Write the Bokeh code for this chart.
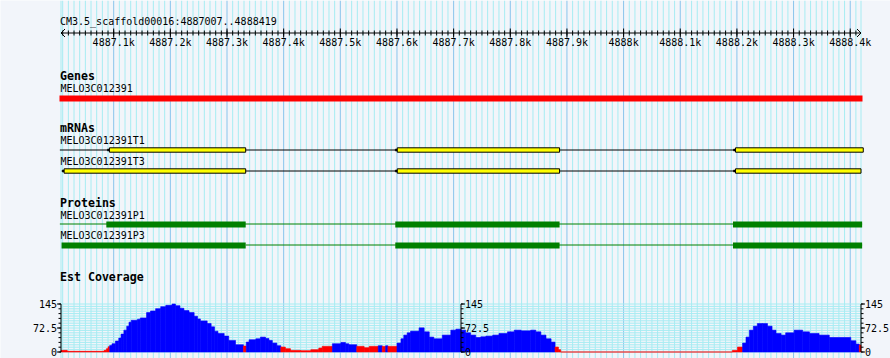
import numpy as np
from bokeh.plotting import figure
from bokeh.models import Range1d
from bokeh.embed import file_html
from bokeh.resources import INLINE
from bokeh.core.properties import value

# ---------------- data ----------------
REF = "CM3.5_scaffold00016"
VIEW_START = 4887007
VIEW_END = 4888419
ruler_major = list(range(4887100, 4888401, 100))
ruler_labels = ["4887.1k", "4887.2k", "4887.3k", "4887.4k", "4887.5k", "4887.6k",
                "4887.7k", "4887.8k", "4887.9k", "4888k", "4888.1k", "4888.2k",
                "4888.3k", "4888.4k"]

gene_name = "MELO3C012391"
gene_span = [4887007, 4888419]

mrna_names = ["MELO3C012391T1", "MELO3C012391T3"]
mrna_line = [[4887005, 4888421], [4887010, 4888419]]
mrna_exons = [
    [[4887089, 4887333], [4887597, 4887887], [4888194, 4888423]],
    [[4887009, 4887333], [4887597, 4887887], [4888194, 4888419]],
]

prot_names = ["MELO3C012391P1", "MELO3C012391P3"]
prot_line = [[4887005, 4888421], [4887333, 4888421]]
prot_exons = [
    [[4887087, 4887333], [4887597, 4887887], [4888193, 4888421]],
    [[4887008, 4887333], [4887597, 4887887], [4888193, 4888421]],
]

cov_max = 145
cov_ticks = [0, 72.5, 145]
cov_tick_labels = ["0", "72.5", "145"]
cov_start = [4887007, 4887018, 4887083, 4887087, 4887090, 4887093, 4887097, 4887103, 4887109, 4887113,
             4887118, 4887123, 4887127, 4887131, 4887142, 4887147, 4887158, 4887165, 4887174, 4887183,
             4887192, 4887203, 4887209, 4887217, 4887224, 4887233, 4887242, 4887248, 4887253, 4887265,
             4887272, 4887278, 4887284, 4887295, 4887303, 4887315, 4887329, 4887334, 4887339, 4887351,
             4887359, 4887368, 4887374, 4887380, 4887388, 4887395, 4887403, 4887412, 4887430, 4887448,
             4887462, 4887468, 4887486, 4887501, 4887509, 4887515, 4887529, 4887542, 4887551, 4887567,
             4887574, 4887580, 4887584, 4887600, 4887607, 4887612, 4887618, 4887624, 4887639, 4887648,
             4887657, 4887665, 4887680, 4887695, 4887704, 4887713, 4887721, 4887730, 4887739, 4887748,
             4887757, 4887769, 4887780, 4887795, 4887807, 4887819, 4887836, 4887845, 4887854, 4887863,
             4887872, 4887879, 4887885, 4887889, 4888192, 4888201, 4888210, 4888216, 4888222, 4888229,
             4888236, 4888245, 4888254, 4888262, 4888269, 4888278, 4888286, 4888301, 4888316, 4888328,
             4888345, 4888363, 4888401, 4888410, 4888416]
cov_value = [5, 2, 5, 10, 16, 20, 25, 33, 42, 54,
             66, 78, 90, 96, 99, 103, 119, 124, 131, 137,
             141, 145, 140, 132, 125, 119, 108, 100, 94, 86,
             76, 63, 56, 48, 35, 22, 18, 30, 37, 40,
             45, 41, 35, 27, 19, 15, 10, 5, 4, 7,
             12, 17, 25, 29, 25, 22, 17, 13, 17, 19,
             17, 19, 17, 27, 40, 51, 58, 63, 73, 61,
             45, 40, 51, 66, 69, 66, 58, 51, 44, 46,
             48, 51, 56, 61, 66, 64, 66, 61, 51, 40,
             30, 15, 7, 0, 5, 15, 27, 45, 66, 78,
             86, 86, 78, 66, 56, 51, 58, 66, 61, 56,
             51, 44, 34, 24, 21]
cov_class = ("RRRRR" "BBBBBBBBBBBBBBBBBBBBBBBBBBBBBBB" "R" "BBBBBBBB" "RRRRRRR" "BBBB" "RRR"
             "BRBR" "BBBBBBBBBBBBBBBBBBBBBBBBBBBB" "RRRRR" "BBBBBBBBBBBBBBBBBB" "R")

# ---------------- style ----------------
W, H = 890, 358
BG = "#f2f5fa"
MINOR = "#a6ecf2"
MAJOR = "#88c4ec"
MONO = value("DejaVu Sans Mono")
LEFT_PX = 60.5
PX_PER_BP = 800.0 / (VIEW_END - VIEW_START)
BP_PER_PX = 1.0 / PX_PER_BP

x0 = VIEW_START - LEFT_PX * BP_PER_PX
x1 = x0 + W * BP_PER_PX

p = figure(width=W, height=H, x_range=Range1d(x0, x1), y_range=Range1d(H, 0),
           output_backend="svg", toolbar_location=None, min_border=0,
           x_axis_location=None, y_axis_location=None,
           background_fill_color=BG, border_fill_color=BG, outline_line_color=None)
p.grid.visible = False

# coverage scale: 0 at y=351.5 px, 145 at y=303.5 px
k = (351.5 - 303.5) / cov_max
p.extra_y_ranges = {"cov": Range1d(-(H - 351.5) / k, cov_max + 303.5 / k)}

# ---------------- grid ----------------
all10 = list(range(4887010, VIEW_END, 10))
minor_x = [VIEW_START] + [v for v in all10 if v % 100 != 0] + [VIEW_END]
major_x = [v for v in all10 if v % 100 == 0]
p.segment(x0=minor_x, x1=minor_x, y0=0, y1=H, line_color=MINOR, line_width=1)
p.segment(x0=major_x, x1=major_x, y0=0, y1=H, line_color=MAJOR, line_width=1)

# coverage horizontal grid
hgrid = list(np.arange(0, cov_max + 0.01, cov_max / 20))
p.segment(x0=VIEW_START, x1=VIEW_END, y0=hgrid, y1=hgrid, y_range_name="cov",
          line_color=MINOR, line_width=1)

# ---------------- ruler ----------------
p.text(x=[VIEW_START], y=[20.5], text=[f"{REF}:{VIEW_START}..{VIEW_END}"],
       text_font=MONO, text_font_size="10px", text_baseline="alphabetic", x_offset=-1)
p.segment(x0=[VIEW_START], x1=[VIEW_END], y0=32.5, y1=32.5, line_color="black", line_width=1)
p.segment(x0=all10, x1=all10, y0=30, y1=35, line_color="black", line_width=1)
p.segment(x0=major_x, x1=major_x, y0=28, y1=37, line_color="black", line_width=1)
ah = 4 * BP_PER_PX
p.segment(x0=[VIEW_START, VIEW_START, VIEW_END, VIEW_END],
          x1=[VIEW_START + ah, VIEW_START + ah, VIEW_END - ah, VIEW_END - ah],
          y0=32.5, y1=[28.5, 36.5, 28.5, 36.5], line_color="black", line_width=1)
p.text(x=ruler_major, y=42, text=ruler_labels, text_font=MONO, text_font_size="10px",
       text_align="center", text_baseline="alphabetic")

# ---------------- track titles ----------------
titles = ["Genes", "mRNAs", "Proteins", "Est Coverage"]
title_y = [75.5, 127.5, 202, 276]
p.text(x=[VIEW_START] * 4, y=title_y, text=titles, text_font=MONO, text_font_style="bold",
       text_font_size="11.6px", text_baseline="alphabetic", x_offset=-1)

names = [gene_name] + mrna_names + prot_names
name_y = [88, 140, 161, 214.5, 235]
p.text(x=[VIEW_START] * 5, y=name_y, text=names, text_font=MONO, text_font_size="10px",
       text_baseline="alphabetic", x_offset=-0.5)

# ---------------- gene ----------------
p.quad(left=[gene_span[0] - 1.5 * BP_PER_PX], right=[gene_span[1] + 1.5 * BP_PER_PX],
       top=95, bottom=101, fill_color="#ff0000", line_color=None)

# ---------------- mRNAs ----------------
mrna_yc = [149.5, 170.5]
notch = 2 * BP_PER_PX
for line, exons, yc in zip(mrna_line, mrna_exons, mrna_yc):
    p.segment(x0=[line[0]], x1=[line[1]], y0=yc, y1=yc, line_color="black", line_width=1)
    ls = [e[0] for e in exons]
    re = [e[1] for e in exons]
    p.quad(left=ls, right=[s + notch for s in ls], top=yc - 1, bottom=yc + 1,
           fill_color="black", line_color="black", line_width=0.5)
    p.quad(left=[s + notch for s in ls], right=re, top=yc - 2.2, bottom=yc + 2.2,
           fill_color="#ffff00", line_color="black", line_width=1)

# ---------------- proteins ----------------
prot_yc = [224, 245]
for line, exons, yc in zip(prot_line, prot_exons, prot_yc):
    p.segment(x0=[line[0]], x1=[line[1]], y0=yc - 0.5, y1=yc - 0.5, line_color="#008000", line_width=1)
    p.quad(left=[e[0] for e in exons], right=[e[1] for e in exons], top=yc - 3, bottom=yc + 3,
           fill_color="#008000", line_color=None)

# ---------------- coverage ----------------
cov_end = cov_start[1:] + [VIEW_END]
cols = ["#ff0000" if c == "R" else "#0000ff" for c in cov_class]
p.quad(left=cov_start, right=cov_end, bottom=0, top=cov_value, y_range_name="cov",
       fill_color=cols, line_color=cols, line_width=0.6)

# coverage axes
axis_x = [VIEW_START, (VIEW_START + VIEW_END) / 2, VIEW_END]
axis_dir = [-1, 1, 1]
minor_t = list(np.arange(0, cov_max + 0.01, cov_max / 10))
for ax, d in zip(axis_x, axis_dir):
    p.segment(x0=[ax], x1=[ax], y0=0, y1=cov_max, y_range_name="cov", line_color="black", line_width=1)
    p.segment(x0=ax, x1=ax + d * 2.5 * BP_PER_PX, y0=minor_t, y1=minor_t, y_range_name="cov",
              line_color="black", line_width=1)
    p.segment(x0=ax, x1=ax + d * 4 * BP_PER_PX, y0=cov_ticks, y1=cov_ticks, y_range_name="cov",
              line_color="black", line_width=1)
    p.text(x=ax, y=cov_ticks, text=cov_tick_labels, y_range_name="cov", text_font=MONO,
           text_font_size="10px", text_baseline="middle",
           text_align="right" if d < 0 else "left", x_offset=4 * d)

open("out.html", "w").write(file_html(p, INLINE))
